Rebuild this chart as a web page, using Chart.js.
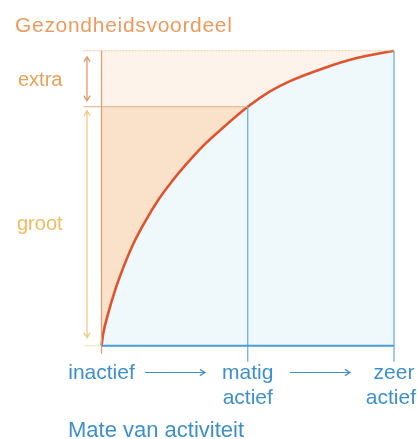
<!DOCTYPE html>
<html>
<head>
<meta charset="utf-8">
<script src="https://cdn.jsdelivr.net/npm/chart.js@4"></script>
<style>
  body { margin: 0; background: #fff; }
  canvas { display: block; }
</style>
</head>
<body>
<canvas id="myChart" width="417" height="439"></canvas>
<script>
// data (x: 0 = inactief, 1 = matig actief, 2 = zeer actief; y: 0..1 benefit)
const activityX = [0, 1, 2];
const activityLabels = [['inactief'], ['matig', 'actief'], ['zeer', 'actief']];
const curveX = [0, 0.012, 0.046, 0.092, 0.149, 0.217, 0.297, 0.388, 0.48, 0.583, 0.7, 0.81, 1, 1.152, 1.289, 1.515, 1.745, 2];
const curveY = [0, 0.042, 0.11, 0.187, 0.265, 0.345, 0.42, 0.494, 0.556, 0.617, 0.68, 0.73, 0.81, 0.862, 0.897, 0.94, 0.975, 1];
const maxBenefit = 1;
const grootLevel = 0.81; // benefit at 'matig actief'
const bandLabels = ['extra', 'groot'];
const yTitle = 'Gezondheidsvoordeel';
const xTitle = 'Mate van activiteit';

const BLUE_TEXT = '#3d8fce';
const BLUE_LINE = '#62abde';

const curvePoints = curveX.map((x, i) => ({ x: x, y: curveY[i] }));

function arrow(ctx, x1, y1, x2, y2, head) {
    const a = Math.atan2(y2 - y1, x2 - x1);
    ctx.beginPath();
    ctx.moveTo(x1, y1);
    ctx.lineTo(x2, y2);
    ctx.moveTo(x2 - head * Math.cos(a - 0.55), y2 - head * Math.sin(a - 0.55));
    ctx.lineTo(x2, y2);
    ctx.lineTo(x2 - head * Math.cos(a + 0.55), y2 - head * Math.sin(a + 0.55));
    ctx.stroke();
}

function doubleArrow(ctx, x, y1, y2, head) {
    arrow(ctx, x, (y1 + y2) / 2, x, y1, head);
    arrow(ctx, x, (y1 + y2) / 2, x, y2, head);
}

const decorations = {
    id: 'decorations',
    afterDatasetsDraw(chart) {
        const ctx = chart.ctx;
        const xs = chart.scales.x;
        const ys = chart.scales.y;
        const x0 = xs.getPixelForValue(activityX[0]);
        const x1 = xs.getPixelForValue(activityX[1]);
        const x2 = xs.getPixelForValue(activityX[2]);
        const yTop = ys.getPixelForValue(maxBenefit);
        const yMid = ys.getPixelForValue(grootLevel);
        const yBot = ys.getPixelForValue(0);
        ctx.save();

        // top dotted line
        ctx.strokeStyle = '#f1c9a0';
        ctx.lineWidth = 1;
        ctx.setLineDash([2, 1]);
        ctx.beginPath();
        ctx.moveTo(x0 - 18, yTop); ctx.lineTo(x2, yTop);
        ctx.stroke();
        ctx.setLineDash([]);

        // 'groot' level line
        ctx.strokeStyle = '#e6ae80';
        ctx.beginPath();
        ctx.moveTo(x0 - 18, yMid); ctx.lineTo(x1, yMid);
        ctx.stroke();

        // faint extension of base line
        ctx.strokeStyle = '#f4e3b0';
        ctx.beginPath();
        ctx.moveTo(x0 - 18, yBot); ctx.lineTo(x0, yBot);
        ctx.stroke();

        // left axis
        ctx.strokeStyle = '#d9a074';
        ctx.lineWidth = 1.3;
        ctx.beginPath();
        ctx.moveTo(x0, yTop); ctx.lineTo(x0, yBot + 8);
        ctx.stroke();

        // vertical blue lines
        ctx.strokeStyle = BLUE_LINE;
        ctx.lineWidth = 1.2;
        ctx.beginPath();
        ctx.moveTo(x1, yMid); ctx.lineTo(x1, yBot + 16);
        ctx.moveTo(x2, yTop); ctx.lineTo(x2, yBot + 16);
        ctx.stroke();

        // bottom axis
        ctx.strokeStyle = '#4a9bd6';
        ctx.lineWidth = 2;
        ctx.beginPath();
        ctx.moveTo(x0, yBot); ctx.lineTo(x2, yBot);
        ctx.stroke();

        // vertical double arrows
        ctx.lineWidth = 1.3;
        ctx.strokeStyle = '#e5986a';
        doubleArrow(ctx, x0 - 14.5, yTop + 6, yMid - 6, 6);
        ctx.strokeStyle = '#f3c88a';
        doubleArrow(ctx, x0 - 14.5, yMid + 4, yBot - 8, 6);

        // left band labels
        ctx.font = '20px "Liberation Sans", Arial, sans-serif';
        ctx.textAlign = 'left';
        ctx.textBaseline = 'alphabetic';
        ctx.fillStyle = '#e9a05a';
        ctx.fillText(bandLabels[0], 18, (yTop + yMid) / 2 + 7);
        ctx.fillStyle = '#f0bb60';
        ctx.fillText(bandLabels[1], 17, 230);

        // title
        ctx.fillStyle = '#ee9a5e';
        ctx.font = '21px "Liberation Sans", Arial, sans-serif';
        ctx.letterSpacing = '0.7px';
        ctx.fillText(yTitle, 15, 32);
        ctx.letterSpacing = '0px';

        // activity labels
        ctx.fillStyle = BLUE_TEXT;
        ctx.font = '21px "Liberation Sans", Arial, sans-serif';
        ctx.textAlign = 'center';
        activityX.forEach((v, i) => {
            let cx = xs.getPixelForValue(v);
            activityLabels[i].forEach((line, j) => {
                const w = ctx.measureText(line).width;
                const c = Math.min(cx, chart.width - 1 - w / 2);
                ctx.fillText(line, c, 379 + j * 25);
            });
        });

        // horizontal arrows between labels
        ctx.strokeStyle = BLUE_TEXT;
        ctx.lineWidth = 1.2;
        arrow(ctx, 145, 372.5, 205, 372.5, 6);
        arrow(ctx, 290, 372.5, 350, 372.5, 6);

        // x title
        ctx.textAlign = 'left';
        ctx.font = '22px "Liberation Sans", Arial, sans-serif';
        ctx.fillText(xTitle, 68, 437);

        ctx.restore();
    }
};

const initChart = () => {
    const ctx = document.getElementById('myChart').getContext('2d');
    new Chart(ctx, {
        type: 'line',
        data: {
            datasets: [
                {
                    label: 'Gezondheidsvoordeel',
                    data: curvePoints,
                    borderColor: '#e0532f',
                    borderWidth: 2.6,
                    backgroundColor: '#eff9fc',
                    fill: 'origin',
                    pointRadius: 0,
                    cubicInterpolationMode: 'monotone',
                    clip: 4
                },
                {
                    label: 'groot',
                    data: [{ x: activityX[0], y: grootLevel }, { x: activityX[1], y: grootLevel }],
                    borderColor: 'transparent',
                    borderWidth: 0,
                    backgroundColor: '#fae1ca',
                    fill: 'origin',
                    pointRadius: 0
                },
                {
                    label: 'extra',
                    data: [{ x: activityX[0], y: maxBenefit }, { x: activityX[2], y: maxBenefit }],
                    borderColor: 'transparent',
                    borderWidth: 0,
                    backgroundColor: '#fdf3ea',
                    fill: 'origin',
                    pointRadius: 0
                }
            ]
        },
        options: {
            responsive: false,
            animation: false,
            devicePixelRatio: 1,
            layout: { padding: { left: 101.5, right: 23, top: 50.7, bottom: 93.2 } },
            plugins: { legend: { display: false }, tooltip: { enabled: false } },
            scales: {
                x: { type: 'linear', min: 0, max: 2, display: false },
                y: { min: 0, max: 1, display: false }
            }
        },
        plugins: [decorations]
    });
};

document.addEventListener('DOMContentLoaded', initChart);
</script>
</body>
</html>
